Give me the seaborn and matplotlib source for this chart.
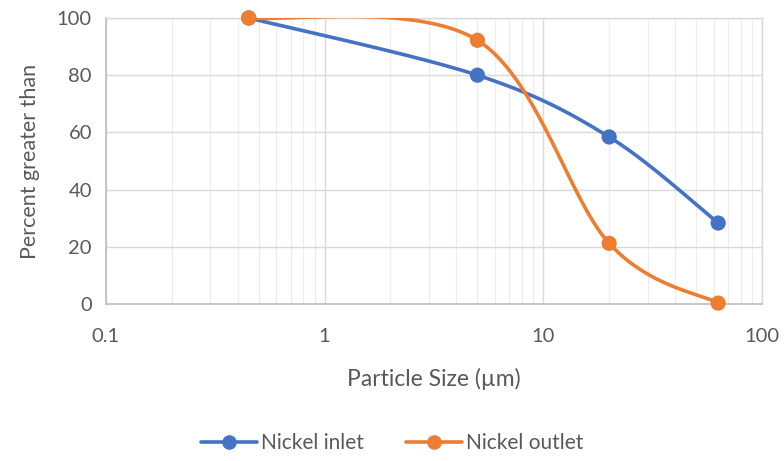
import numpy as np
import pandas as pd
import matplotlib
matplotlib.use("Agg")
import matplotlib.pyplot as plt
import seaborn as sns
from matplotlib.lines import Line2D
from matplotlib.ticker import FixedLocator, LogLocator, NullFormatter

# particle size data
sizes = [0.45, 5, 20, 63]
inlet = [100, 80, 58.4, 28.3]
outlet = [100, 92.2, 21.2, 0.3]
series_names = ["Nickel inlet", "Nickel outlet"]
colors = ["#4472C4", "#ED7D31"]


def smooth(xs, ys, n=60):
    # Excel-style smoothed line: cubic bezier with catmull-rom control points, in log-x space
    px = np.log10(np.array(xs, dtype=float))
    py = np.array(ys, dtype=float)
    outx, outy = [], []
    for i in range(len(px) - 1):
        p0 = (px[max(i - 1, 0)], py[max(i - 1, 0)])
        p1 = (px[i], py[i])
        p2 = (px[i + 1], py[i + 1])
        p3 = (px[min(i + 2, len(px) - 1)], py[min(i + 2, len(px) - 1)])
        c1 = (p1[0] + (p2[0] - p0[0]) / 6, p1[1] + (p2[1] - p0[1]) / 6)
        c2 = (p2[0] - (p3[0] - p1[0]) / 6, p2[1] - (p3[1] - p1[1]) / 6)
        t = np.linspace(0, 1, n)
        bx = (1 - t) ** 3 * p1[0] + 3 * (1 - t) ** 2 * t * c1[0] + 3 * (1 - t) * t ** 2 * c2[0] + t ** 3 * p2[0]
        by = (1 - t) ** 3 * p1[1] + 3 * (1 - t) ** 2 * t * c1[1] + 3 * (1 - t) * t ** 2 * c2[1] + t ** 3 * p2[1]
        outx.extend(bx)
        outy.extend(by)
    return 10 ** np.array(outx), np.array(outy)


sns.set_style("white")
plt.rcParams['font.family'] = ['Lato', 'DejaVu Sans']
text_col = "#595959"

fig = plt.figure(figsize=(7.84, 4.61), dpi=100)
ax = fig.add_axes([0.135, 0.3406, 0.837, 0.6204])

for name, vals, col in zip(series_names, [inlet, outlet], colors):
    cx, cy = smooth(sizes, vals)
    curve = pd.DataFrame({"x": cx, "y": cy})
    sns.lineplot(data=curve, x="x", y="y", ax=ax, color=col, linewidth=2.6,
                 sort=False, estimator=None, zorder=3)
    pts = pd.DataFrame({"x": sizes, "y": vals})
    sns.scatterplot(data=pts, x="x", y="y", ax=ax, color=col, s=120,
                    edgecolor="none", zorder=4, clip_on=False)

ax.set_xscale("log")
ax.set_xlim(0.1, 100)
ax.set_ylim(0, 100)
ax.set_yticks([0, 20, 40, 60, 80, 100])
ax.xaxis.set_major_locator(FixedLocator([0.1, 1, 10, 100]))
ax.set_xticklabels(["0.1", "1", "10", "100"])
ax.xaxis.set_minor_locator(LogLocator(base=10, subs=np.arange(2, 10)))
ax.xaxis.set_minor_formatter(NullFormatter())

ax.grid(which="major", color="#d9d9d9", linewidth=1.0)
ax.grid(which="minor", axis="x", color="#ededed", linewidth=1.0)
ax.set_axisbelow(True)
for side in ["top", "right"]:
    ax.spines[side].set_color("#d9d9d9")
    ax.spines[side].set_linewidth(1.0)
for side in ["left", "bottom"]:
    ax.spines[side].set_color("#bfbfbf")
    ax.spines[side].set_linewidth(1.2)

ax.tick_params(which="both", length=0, labelsize=14.5, labelcolor=text_col)
ax.tick_params(axis="x", pad=17)
ax.tick_params(axis="y", pad=10)
ax.set_xlabel("Particle Size (µm)", fontsize=16.5, color=text_col, labelpad=17)
ax.set_ylabel("Percent greater than", fontsize=15.5, color=text_col, labelpad=12)

handles = [Line2D([0], [0], color=c, linewidth=2.6, marker="o", markersize=10.5,
                  markeredgewidth=0) for c in colors]
fig.legend(handles, series_names, loc="center", bbox_to_anchor=(0.5, 0.038),
           ncol=2, frameon=False, fontsize=15, labelcolor=text_col,
           handlelength=2.7, handletextpad=0.2, columnspacing=2.0)

fig.savefig("out.png", dpi=100)
